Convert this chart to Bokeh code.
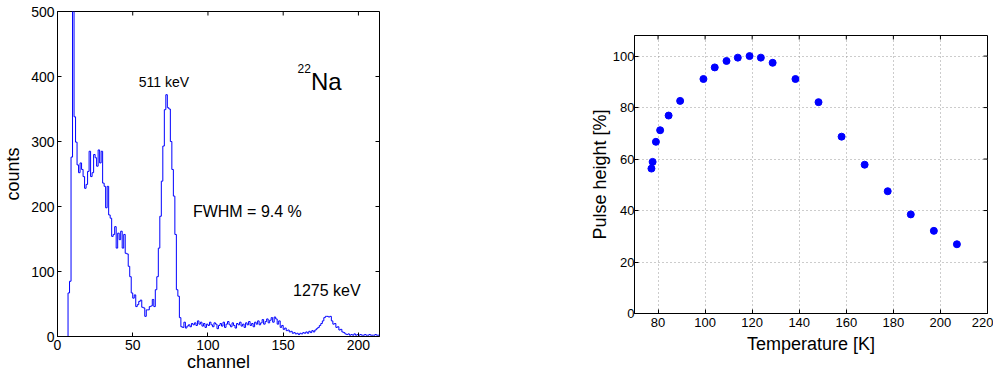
import math
from bokeh.plotting import figure
from bokeh.layouts import row, column
from bokeh.models import Label, FixedTicker, Range1d, Spacer
from bokeh.embed import file_html
from bokeh.resources import INLINE

FONT = "Liberation Sans"

# ---------------- Left: 22Na spectrum ----------------
counts = [
    0, 0, 0, 0, 0, 0, 0, 67, 85, 276,
    700, 338, 299, 264, 252, 267, 257, 246, 228, 234,
    254, 285, 246, 252, 280, 275, 262, 287, 267, 285,
    236, 231, 198, 231, 187, 182, 154, 157, 169, 136,
    159, 149, 162, 136, 157, 128, 127, 108, 92, 67,
    59, 64, 46, 49, 54, 56, 45, 44, 31, 41,
    41, 46, 47, 57, 46, 72, 92, 136, 185, 239,
    293, 349, 372, 352, 350, 300, 257, 216, 157, 72,
    62, 29, 15, 14, 22, 13, 16, 18, 15, 20,
    18, 21, 17, 24, 19, 22, 16, 20, 14, 19,
    17, 22, 18, 15, 21, 19, 12, 17, 20, 16,
    22, 14, 19, 23, 18, 15, 21, 17, 13, 20,
    18, 22, 16, 19, 14, 21, 18, 23, 17, 20,
    15, 22, 19, 24, 18, 21, 26, 19, 23, 27,
    21, 25, 29, 22, 30, 27, 19, 24, 14, 17,
    11, 13, 9, 10, 7, 8, 5, 6, 4, 5,
    3, 5, 4, 6, 5, 7, 5, 8, 6, 9,
    7, 10, 12, 14, 17, 20, 24, 29, 31, 31,
    30, 31, 24, 19, 20, 14, 15, 10, 11, 7,
    6, 4, 3, 4, 2, 3, 2, 4, 2, 3,
    2, 3, 2, 2, 3, 2, 2, 3, 2, 2,
    2, 3, 2, 2, 2,
]
channels = list(range(len(counts)))
x_ticks_left = [0, 50, 100, 150, 200]
y_ticks_left = [0, 100, 200, 300, 400, 500]


def style(p, tick_size, label_size, xticks, yticks, xlabel, ylabel, xr, yr):
    p.outline_line_color = "black"
    p.outline_line_width = 1
    p.background_fill_color = "white"
    p.border_fill_color = "white"
    xa = p.below[0]
    ya = p.left[0]
    xa.axis_label = xlabel
    ya.axis_label = ylabel
    for ax in (xa, ya):
        ax.major_label_text_font = FONT
        ax.major_label_text_font_size = tick_size
        ax.major_label_text_color = "black"
        ax.axis_label_text_font = FONT
        ax.axis_label_text_font_size = label_size
        ax.axis_label_text_font_style = "normal"
        ax.axis_label_text_color = "black"
        ax.axis_line_color = "black"
        ax.major_tick_in = 4
        ax.major_tick_out = 0
        ax.minor_tick_line_color = None
        ax.major_tick_line_color = "black"
    xa.ticker = FixedTicker(ticks=xticks)
    ya.ticker = FixedTicker(ticks=yticks)
    # mirrored inward ticks on the top and right edges of the box
    p.ray(x=xticks, y=[yr[1]] * len(xticks), length=4, length_units="screen",
          angle=-math.pi / 2, line_color="black", line_width=1)
    p.ray(x=[xr[1]] * len(yticks), y=yticks, length=4, length_units="screen",
          angle=math.pi, line_color="black", line_width=1)
    return xa, ya


xr1, yr1 = (0, 214), (0, 500)
p1 = figure(width=390, height=375, x_range=Range1d(*xr1), y_range=Range1d(*yr1),
            output_backend="svg", toolbar_location=None,
            min_border_left=54, min_border_right=11, min_border_top=11, min_border_bottom=39)
p1.step(channels, counts, mode="after", line_color="#0000ff", line_width=1)
xa1, ya1 = style(p1, "14px", "18px", x_ticks_left, y_ticks_left, "channel", "counts", xr1, yr1)
xa1.major_label_standoff = 3
ya1.major_label_standoff = 3
xa1.axis_label_standoff = -1
ya1.axis_label_standoff = 5
p1.xgrid.grid_line_color = None
p1.ygrid.grid_line_color = None

for txt, x, y, size in (("511 keV", 54, 392, "14px"), ("FWHM = 9.4 %", 90, 192, "16px"),
                        ("1275 keV", 156.5, 71, "16px"), ("22", 159.5, 412, "12px"),
                        ("Na", 168.5, 392, "24px")):
    p1.add_layout(Label(x=x, y=y, text=txt, text_font=FONT, text_font_size=size,
                        text_color="black", text_baseline="alphabetic"))

# ---------------- Right: pulse height vs temperature ----------------
temperature = [77.2, 77.7, 79.1, 80.9, 84.5, 89.4, 99.3, 104.1, 109.1, 113.9, 118.9,
               123.7, 128.7, 138.4, 148.2, 158.0, 167.8, 177.6, 187.4, 197.2, 207.0]
pulse_height = [56.3, 58.9, 66.7, 71.2, 76.9, 82.6, 91.1, 95.6, 98.1, 99.4, 100.0,
                99.4, 97.4, 91.1, 82.1, 68.7, 57.8, 47.5, 38.5, 32.1, 26.9]
x_ticks_right = [80, 100, 120, 140, 160, 180, 200, 220]
y_ticks_right = [0, 20, 40, 60, 80, 100]

xr2, yr2 = (70, 220), (0, 108)
p2 = figure(width=603, height=337, x_range=Range1d(*xr2), y_range=Range1d(*yr2),
            output_backend="svg", toolbar_location=None,
            min_border_left=244, min_border_right=6, min_border_top=3, min_border_bottom=56)
for g in (p2.xgrid[0], p2.ygrid[0]):
    g.grid_line_color = "#999999"
    g.grid_line_dash = "1 3"
    g.grid_line_width = 1
xa2, ya2 = style(p2, "13px", "18px", x_ticks_right, y_ticks_right,
                 "Temperature [K]", "Pulse height [%]", xr2, yr2)
xa2.major_label_standoff = 4
ya2.major_label_standoff = 0
xa2.axis_label_standoff = 4
ya2.axis_label_standoff = 0
p2.scatter(temperature, pulse_height, size=7, color="#0000ff", line_color="#0000ff")

layout = row(p1, column(Spacer(width=603, height=32), p2))
open("out.html", "w").write(file_html(layout, INLINE))
